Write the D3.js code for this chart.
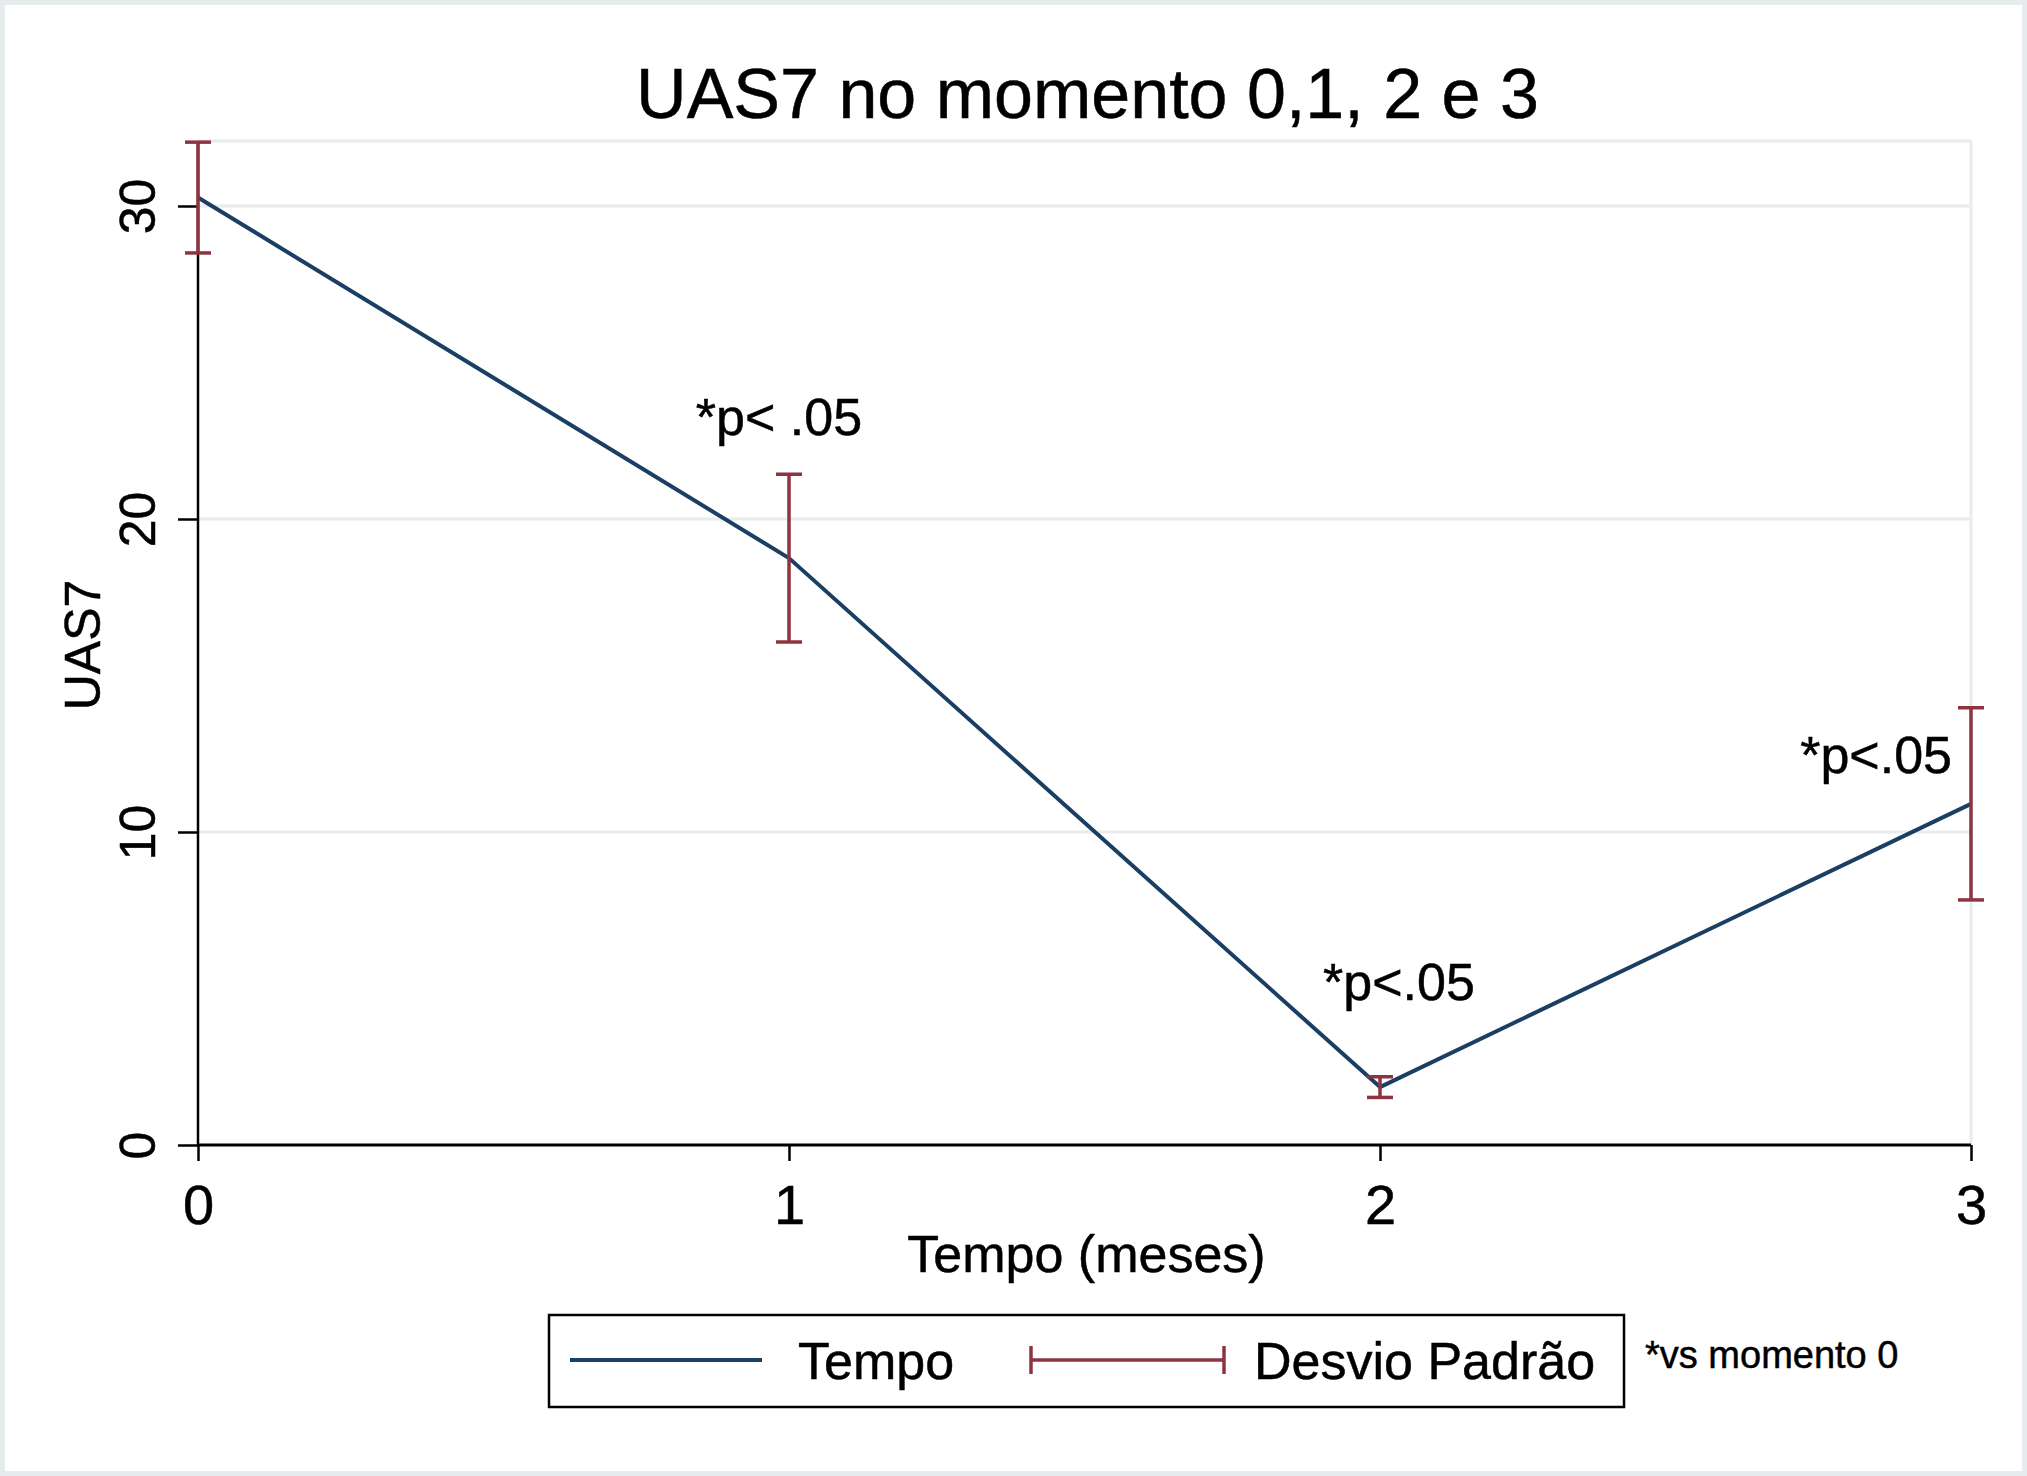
<!DOCTYPE html>
<html>
<head>
<meta charset="utf-8">
<script src="https://cdn.jsdelivr.net/npm/d3@7"></script>
<style>
  html, body { margin: 0; padding: 0; background: #ffffff; }
  svg { display: block; }
  text { font-family: "Liberation Sans", Arial, Helvetica, sans-serif; fill: #000; stroke: #000; stroke-width: 0.5px; }
</style>
</head>
<body>
<svg id="chart" width="2027" height="1476"></svg>
<script>
// ---- data ----
const months = [0, 1, 2, 3];
const monthLabels = ["0", "1", "2", "3"];
const uasMean = [30.27, 18.75, 1.85, 10.9];
const uasSD = [1.77, 2.68, 0.33, 3.07];
const yTicks = [0, 10, 20, 30];
const gridTicks = [10, 20, 30];
const annotText = ["*p< .05", "*p<.05", "*p<.05"];
const annotMonth = [1, 2, 3];
const titleText = "UAS7 no momento 0,1, 2 e 3";
const xTitle = "Tempo (meses)";
const yTitle = "UAS7";
const legendLabels = ["Tempo", "Desvio Padrão"];
const noteText = "*vs momento 0";

// ---- layout ----
const W = 2027, H = 1476;
const pLeft = 198, pRight = 1971, pTop = 141, pBottom = 1145;
const navy = "#1a3f63", maroon = "#8e3440", gridCol = "#e8ecec";

const svg = d3.select("#chart");

// outer frame
svg.append("rect").attr("x", 0).attr("y", 0).attr("width", W).attr("height", H).attr("fill", "#fff");
svg.append("rect").attr("x", 2.5).attr("y", 2.5).attr("width", W - 5).attr("height", H - 5)
  .attr("fill", "none").attr("stroke", "#e6ecee").attr("stroke-width", 5);

const x = d3.scaleLinear().domain([0, 3]).range([pLeft, pRight]);
const y = d3.scaleLinear().domain([0, 10]).range([pBottom, pBottom - 313]);
const yTopVal = y.invert(pTop);

// plot region border (light)
svg.append("line").attr("x1", pLeft).attr("x2", pRight).attr("y1", y(yTopVal)).attr("y2", y(yTopVal))
  .attr("stroke", gridCol).attr("stroke-width", 3);
svg.append("line").attr("x1", pRight).attr("x2", pRight).attr("y1", y(yTopVal)).attr("y2", pBottom)
  .attr("stroke", gridCol).attr("stroke-width", 3);

// gridlines
svg.append("g").selectAll("line").data(gridTicks).join("line")
  .attr("x1", pLeft).attr("x2", pRight)
  .attr("y1", d => y(d)).attr("y2", d => y(d))
  .attr("stroke", gridCol).attr("stroke-width", 3);

// y axis
const yAxis = d3.axisLeft(y).tickValues(yTicks).tickSize(20).tickPadding(0).tickFormat(d3.format("d"));
const gy = svg.append("g").attr("transform", `translate(${pLeft},0)`).call(yAxis);
gy.select(".domain").remove();
gy.selectAll(".tick line").attr("stroke", "#000").attr("stroke-width", 2.5);
gy.selectAll(".tick text")
  .attr("x", 0).attr("dy", null).attr("y", 0)
  .attr("text-anchor", "middle")
  .attr("transform", "translate(-43,0) rotate(-90)")
  .style("font-size", "50px")
  .style("font-family", '"Liberation Sans", Arial, sans-serif')
  .attr("fill", "#000");
svg.append("line").attr("x1", pLeft).attr("x2", pLeft).attr("y1", pTop).attr("y2", pBottom)
  .attr("stroke", "#000").attr("stroke-width", 2.5);

// x axis
const xAxis = d3.axisBottom(x).tickValues(months).tickSize(16).tickPadding(0)
  .tickFormat((d, i) => monthLabels[i]);
const gx = svg.append("g").attr("transform", `translate(0,${pBottom})`).call(xAxis);
gx.select(".domain").remove();
gx.selectAll(".tick line").attr("stroke", "#000").attr("stroke-width", 2.5);
gx.selectAll(".tick text")
  .attr("y", 79).attr("dy", null)
  .style("font-size", "56px")
  .style("font-family", '"Liberation Sans", Arial, sans-serif')
  .attr("fill", "#000");
svg.append("line").attr("x1", pLeft).attr("x2", pRight).attr("y1", pBottom).attr("y2", pBottom)
  .attr("stroke", "#000").attr("stroke-width", 3);

// line series
const lineGen = d3.line().x((d, i) => x(months[i])).y(d => y(d));
svg.append("path").datum(uasMean).attr("d", lineGen)
  .attr("fill", "none").attr("stroke", navy).attr("stroke-width", 4)
  .attr("stroke-linejoin", "round");

// error bars
const cap = 13;
const eb = svg.append("g").attr("stroke", maroon).attr("stroke-width", 3.5).attr("fill", "none");
months.forEach((m, i) => {
  const lo = uasMean[i] - uasSD[i], hi = uasMean[i] + uasSD[i];
  eb.append("line").attr("x1", x(m)).attr("x2", x(m)).attr("y1", y(lo)).attr("y2", y(hi));
  eb.append("line").attr("x1", x(m) - cap).attr("x2", x(m) + cap).attr("y1", y(lo)).attr("y2", y(lo));
  eb.append("line").attr("x1", x(m) - cap).attr("x2", x(m) + cap).attr("y1", y(hi)).attr("y2", y(hi));
});

// annotations
const annotPos = [
  { dx: -10, y: 435, anchor: "middle" },
  { dx: 19, y: 1000, anchor: "middle" },
  { dx: -19, y: 773, anchor: "end" }
];
annotText.forEach((t, i) => {
  svg.append("text").attr("x", x(annotMonth[i]) + annotPos[i].dx).attr("y", annotPos[i].y)
    .attr("text-anchor", annotPos[i].anchor).style("font-size", "52px").text(t);
});

// title
svg.append("text").attr("x", (pLeft + pRight) / 2 + 3).attr("y", 118)
  .attr("text-anchor", "middle").style("font-size", "70px").text(titleText);

// axis titles
svg.append("text").attr("x", (pLeft + pRight) / 2 + 2).attr("y", 1272)
  .attr("text-anchor", "middle").style("font-size", "52px").text(xTitle);
svg.append("text").attr("transform", `translate(100,${(pTop + pBottom) / 2 + 2}) rotate(-90)`)
  .attr("text-anchor", "middle").style("font-size", "50px").text(yTitle);

// legend
const lg = svg.append("g");
lg.append("rect").attr("x", 549).attr("y", 1315).attr("width", 1075).attr("height", 92)
  .attr("fill", "#fff").attr("stroke", "#000").attr("stroke-width", 2.5);
const ly = 1360;
lg.append("line").attr("x1", 570).attr("x2", 762).attr("y1", ly).attr("y2", ly)
  .attr("stroke", navy).attr("stroke-width", 4);
lg.append("text").attr("x", 798).attr("y", ly + 19).style("font-size", "52px").text(legendLabels[0]);
lg.append("line").attr("x1", 1031).attr("x2", 1224).attr("y1", ly).attr("y2", ly)
  .attr("stroke", maroon).attr("stroke-width", 3.5);
lg.append("line").attr("x1", 1031).attr("x2", 1031).attr("y1", ly - 14).attr("y2", ly + 14)
  .attr("stroke", maroon).attr("stroke-width", 3.5);
lg.append("line").attr("x1", 1224).attr("x2", 1224).attr("y1", ly - 14).attr("y2", ly + 14)
  .attr("stroke", maroon).attr("stroke-width", 3.5);
lg.append("text").attr("x", 1254).attr("y", ly + 19).style("font-size", "52px").text(legendLabels[1]);

// note
svg.append("text").attr("x", 1645).attr("y", 1368).style("font-size", "38px").text(noteText);
</script>
</body>
</html>
